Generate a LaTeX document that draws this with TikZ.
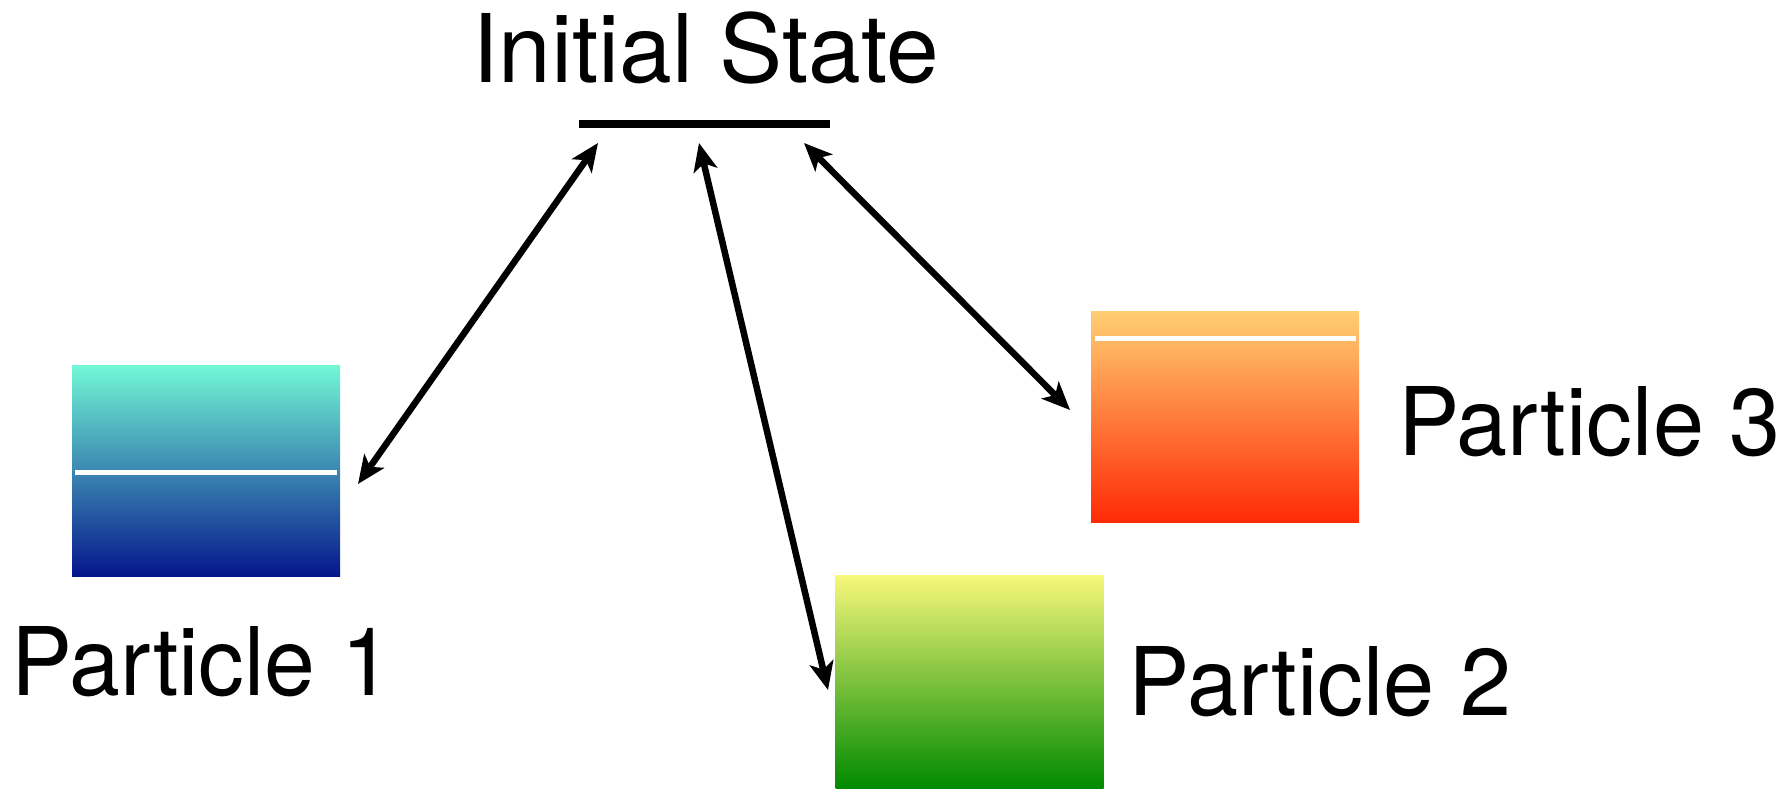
\documentclass[tikz,border=0pt]{standalone}
\usepackage{fontspec}
\setmainfont{TeX Gyre Heros}
\usetikzlibrary{arrows.meta}
\definecolor{p1top}{RGB}{114,248,214}
\definecolor{p1bot}{RGB}{5,22,140}
\definecolor{p2top}{RGB}{248,248,122}
\definecolor{p2bot}{RGB}{0,138,0}
\definecolor{p3top}{RGB}{255,206,116}
\definecolor{p3bot}{RGB}{255,42,5}
\tikzset{
  lbl/.style={anchor=base, inner sep=0pt, font=\fontsize{94.7}{100}\selectfont},
  pbox/.style={draw=none, inner sep=0pt, outer sep=0pt, minimum width=268pt, minimum height=211pt},
  level/.style={draw=white, line width=5pt},
  link/.style={line width=6.5pt, {Stealth[length=28pt,width=24pt,inset=7pt]}-{Stealth[length=28pt,width=24pt,inset=7pt]}}
}
\begin{document}
\begin{tikzpicture}[x=1pt,y=-1pt]
\useasboundingbox (0,0) rectangle (1788,788);
% initial state
\node[lbl] (istate) at (705.5,82) {Initial State};
\node[fill=black, inner sep=0pt, minimum width=251pt, minimum height=8pt] (ilevel) at (704.5,124) {};
% particle boxes
\node[pbox, top color=p1top, bottom color=p1bot] (p1) at (206,470.5) {};
\node[pbox, top color=p2top, bottom color=p2bot, minimum height=213pt] (p2) at (969.5,681.5) {};
\node[pbox, top color=p3top, bottom color=p3bot] (p3) at (1225,417) {};
% white levels
\draw[level] (75,472) -- (337,472);
\draw[level] (1095,338) -- (1356,338);
% labels
\node[lbl] (l1) at (201.5,695) {\scalebox{0.965}[1]{Particle 1}};
\node[lbl] (l2) at (1320,715) {\scalebox{0.97}[1]{Particle 2}};
\node[lbl] (l3) at (1589.5,455) {\scalebox{0.97}[1]{Particle 3}};
% arrow endpoints
\coordinate (a1s) at (598,143);
\coordinate (a1e) at (358,484);
\coordinate (a2s) at (699,143);
\coordinate (a2e) at (828,690);
\coordinate (a3s) at (804,143);
\coordinate (a3e) at (1070,410);
\draw[link] (a1s) -- (a1e);
\draw[link] (a2s) -- (a2e);
\draw[link] (a3s) -- (a3e);
\end{tikzpicture}
\end{document}
